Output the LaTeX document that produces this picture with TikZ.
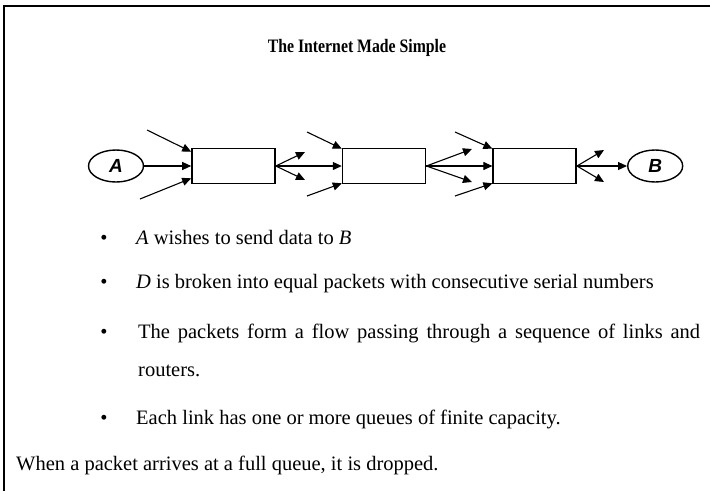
\documentclass[tikz,border=0pt]{standalone}
\usepackage{fontspec}
\setmainfont{Liberation Serif}
\newfontfamily\hostfont{Liberation Sans}
\newfontfamily\titlefont[FakeStretch=0.83]{Liberation Serif}
\usetikzlibrary{positioning, arrows.meta, shapes.geometric}

\begin{document}
\begin{tikzpicture}[x=1pt, y=-1pt]

	\tikzstyle{router}=[draw, line width=1.6pt, minimum width=83pt, minimum height=35pt, inner sep=0pt]
	\tikzstyle{host}=[draw, ellipse, line width=1.4pt, minimum width=55pt, minimum height=32pt, inner sep=0pt, font=\hostfont\bfseries\itshape\fontsize{19}{19}\selectfont]

	\tikzstyle{flow}=[-{Triangle[length=9pt, width=8pt]}, line width=1.1pt]
	\tikzstyle{item}=[anchor=base west, inner sep=0pt, font=\fontsize{20.5}{24}\selectfont]
	\tikzstyle{dot}=[anchor=base, inner sep=0pt, font=\fontsize{20.5}{24}\selectfont]

	\useasboundingbox (0,0) rectangle (710,491);
	\draw[line width=1.2pt] (710,6) -- (4,6) -- (4,491);

	\node[anchor=base, inner sep=0pt, font=\titlefont\bfseries\fontsize{19}{22}\selectfont] (title) at (357,52) {The Internet Made Simple};

	\node[host] (src) at (116,166) {A};
	\node[router, right=47pt of src] (rtr1) {};
	\node[router, right=66pt of rtr1] (rtr2) {};
	\node[router, right=66pt of rtr2] (rtr3) {};
	\node[host, right=50pt of rtr3] (dst) {B};

	\draw[flow] (src) -- (rtr1);
	\draw[flow] (rtr1) -- (rtr2);
	\draw[flow] (rtr2) -- (rtr3);
	\draw[flow] (rtr3) -- (dst);

	% other flows joining
	\coordinate (in1a) at (147,130);
	\coordinate (in1b) at (140,199);
	\coordinate (in2a) at (307,132);
	\coordinate (in2b) at (307,196);
	\coordinate (in3a) at (455,132);
	\coordinate (in3b) at (455,196);
	\draw[flow] (in1a) -- ([yshift=-4pt]rtr1.north west);
	\draw[flow] (in1b) -- ([yshift=6pt]rtr1.south west);
	\draw[flow] (in2a) -- ([yshift=-1pt]rtr2.north west);
	\draw[flow] (in2b) -- ([yshift=1pt]rtr2.south west);
	\draw[flow] (in3a) -- ([yshift=-1pt]rtr3.north west);
	\draw[flow] (in3b) -- ([yshift=1pt]rtr3.south west);

	% other flows leaving
	\coordinate (out1a) at (305,152);
	\coordinate (out1b) at (305,180);
	\coordinate (out2a) at (472,149);
	\coordinate (out2b) at (472,182);
	\coordinate (out3a) at (604,150);
	\coordinate (out3b) at (604,182);
	\draw[flow] (rtr1.east) -- (out1a);
	\draw[flow] (rtr1.east) -- (out1b);
	\draw[flow] (rtr2.east) -- (out2a);
	\draw[flow] (rtr2.east) -- (out2b);
	\draw[flow] (rtr3.east) -- (out3a);
	\draw[flow] (rtr3.east) -- (out3b);

	% bullet list
	\node[dot] (dot1) at (104,244) {\textbullet};
	\node[item] (txt1) at (136,244) {\textit{A} wishes to send data to \textit{B}};
	\node[dot] (dot2) at (104,288) {\textbullet};
	\node[item] (txt2) at (136,288) {\textit{D} is broken into equal packets with consecutive serial numbers};
	\node[dot] (dot3) at (104,338) {\textbullet};
	\node[item] (txt3) at (138,338) {\makebox[562pt][s]{The packets form a flow passing through a sequence of links and}};
	\node[item] (txt3b) at (138,376) {routers.};
	\node[dot] (dot4) at (104,424) {\textbullet};
	\node[item] (txt4) at (136,424) {Each link has one or more queues of finite capacity.};

	\node[item] (note) at (16,470) {When a packet arrives at a full queue, it is dropped.};

\end{tikzpicture}
\end{document}
